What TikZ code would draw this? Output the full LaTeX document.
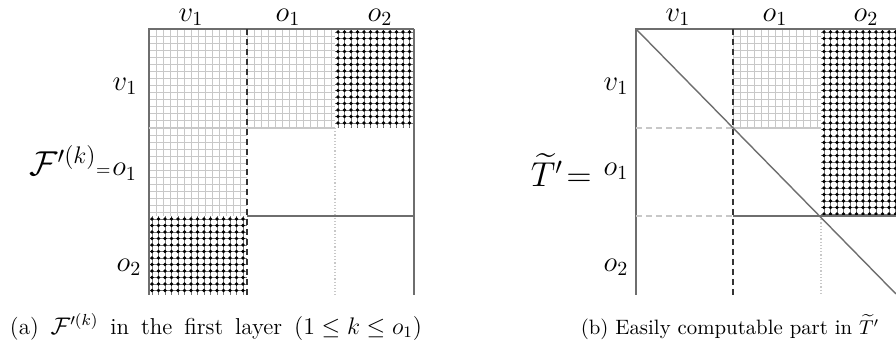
\documentclass[tikz,border=0pt]{standalone}
\usepackage{amsmath, amssymb}
\usepackage{tikz}
\usetikzlibrary{positioning}
\definecolor{gridgray}{RGB}{200, 200, 200}
\definecolor{edgegray}{RGB}{110, 110, 110}

% light grid block: x0 y0 x1 y1 (pixel units)
\newcommand{\gridblock}[4]{%
  \begin{scope}
    \clip (#1,#2) rectangle (#3,#4);
    \foreach \g in {0,...,15} {
      \draw[gridline] ({#1+7*\g},#2) -- ({#1+7*\g},#4);
      \draw[gridline] (#1,{#2+7*\g}) -- (#3,{#2+7*\g});
    }
  \end{scope}}
% dense dot block: x0 y0 x1 y1
\newcommand{\dotblock}[4]{%
  \begin{scope}
    \clip (#1,#2) rectangle (#3,#4);
    \foreach \g in {0,...,30} {
      \draw[dotline] ({#1+3+6.5*\g},#2) -- ({#1+3+6.5*\g},#4);
      \draw[dotline] (#1,{#2+3+6.5*\g}) -- (#3,{#2+3+6.5*\g});
    }
    \foreach \g in {0,...,15}
      \foreach \h in {0,...,29}
        \fill ({#1+3+6.5*\g},{#2+3+6.5*\h}) circle (0.95pt);
  \end{scope}}

\begin{document}
\begin{tikzpicture}[
  x=0.5pt, y=-0.5pt,
  gridline/.style={gridgray, line width=0.3pt},
  dotline/.style={black!55, line width=0.25pt},
  border/.style={edgegray, line width=0.7pt},
  split/.style={black!80, densely dashed, line width=0.6pt},
  faint/.style={gridgray, densely dotted, line width=0.6pt},
  lab/.style={font=\fontsize{14}{16}\selectfont, inner sep=0pt},
  big/.style={font=\LARGE, inner sep=0pt},
  captext/.style={font=\fontsize{10.4}{12}\selectfont, inner sep=0pt}
]
  \useasboundingbox (0,0) rectangle (896,347);

  % (a) blocks of F'(k)
  \gridblock{149}{29}{247}{128}
  \gridblock{247}{29}{335}{128}
  \gridblock{149}{128}{247}{216}
  \dotblock{335}{29}{414}{128}
  \dotblock{149}{216}{247}{295}

  \draw[border] (149,295) -- (149,29) -- (414,29);
  \draw[border] (414,29) -- (414,295);
  \draw[split] (247,29) -- (247,295);
  \draw[faint] (335,128) -- (335,295);
  \draw[faint] (149,128) -- (247,128);
  \draw[border, gridgray] (247,128) -- (335,128);
  \draw[border] (247,216) -- (414,216);

  \node[lab] (ca1) at (191,17) {$v_1$};
  \node[lab] (ca2) at (288,17) {$o_1$};
  \node[lab] (ca3) at (380,17) {$o_2$};
  \node[lab] (ra1) at (125,86) {$v_1$};
  \node[lab, anchor=base west] (ra2) at (112,176) {$o_1$};
  \node[lab] (ra3) at (129,267) {$o_2$};
  \node[font=\small, inner sep=0pt, anchor=base east] (eqa) at (111,176) {$=$};
  \node[big, anchor=base east] (fk) at (97,176) {$\mathcal{F}'^{(k)}$};

  % (b) blocks of T'
  \gridblock{733}{29}{821}{128}
  \dotblock{821}{29}{896}{216}

  \draw[border] (636,295) -- (636,29) -- (896,29);
  \draw[split] (733,29) -- (733,295);
  \draw[faint] (821,216) -- (821,295);
  \draw[split, gridgray] (636,128) -- (733,128);
  \draw[border, gridgray] (733,128) -- (821,128);
  \draw[split, gridgray] (636,216) -- (733,216);
  \draw[border] (733,216) -- (896,216);
  \draw[border] (636,29) -- (896,294);

  \node[lab] (cb1) at (678,17) {$v_1$};
  \node[lab] (cb2) at (775,17) {$o_1$};
  \node[lab] (cb3) at (866,17) {$o_2$};
  \node[lab] (rb1) at (616,86) {$v_1$};
  \node[lab] (rb2) at (616,171) {$o_1$};
  \node[lab] (rb3) at (616,267) {$o_2$};
  \node[big, anchor=east] (tt) at (592,170) {$\widetilde{T}'\!=$};

  % captions
  \node[captext, font=\fontsize{11.5}{13}\selectfont] (capa) at (216,327)
    {\makebox[206pt][s]{(a) $\mathcal{F}'^{(k)}$ in the first layer \mbox{$(1 \leq k \leq o_1)$}}};
  \node[captext] (capb) at (730,327) {(b) Easily computable part in $\widetilde{T}'$};
\end{tikzpicture}
\end{document}
